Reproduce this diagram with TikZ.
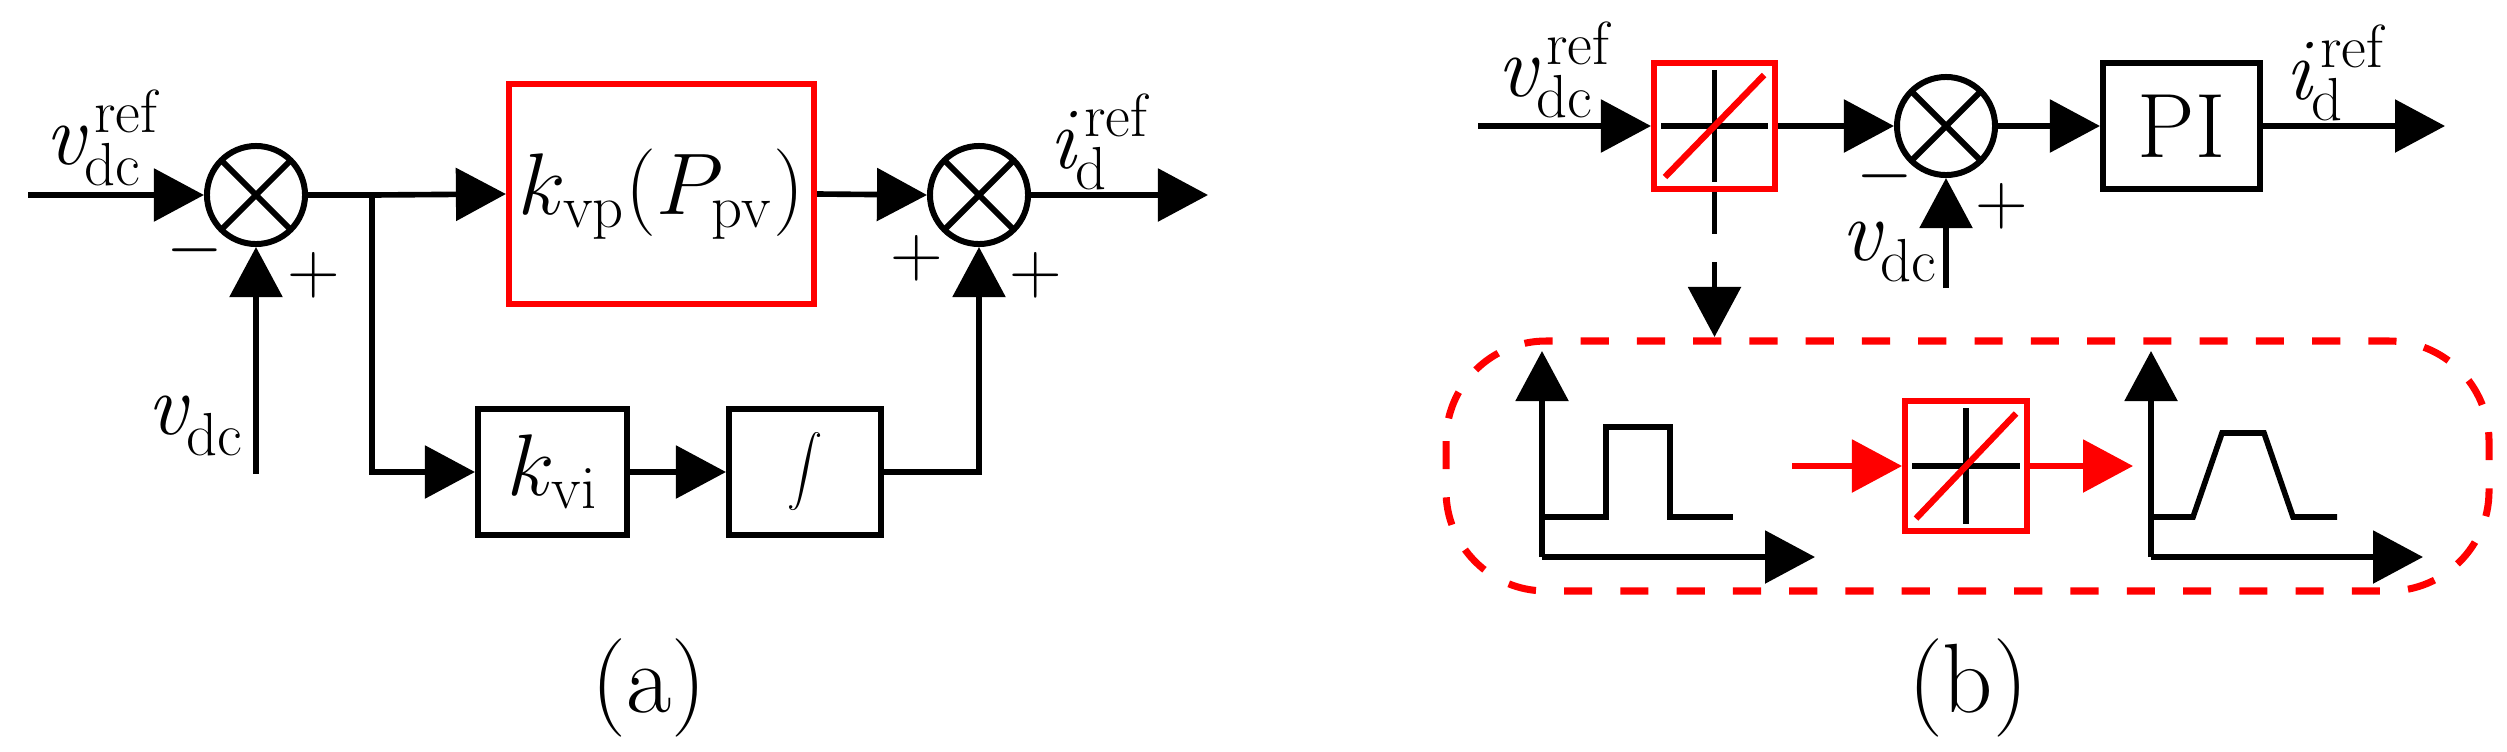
\documentclass[tikz,border=0pt]{standalone}
\usetikzlibrary{arrows.meta,calc}
\newcommand{\vsym}[3]{$\mathit{#1}^{\mathrm{#3}}_{\mathrm{#2}}$}
\begin{document}
\begin{tikzpicture}[x=0.01cm,y=-0.01cm,line width=1.6pt,
  ar/.style={-{Triangle[length=0.5cm,width=0.52cm]}},
  blk/.style={draw,line width=1.7pt,inner sep=0pt},
  lbl/.style={font=\fontsize{25}{29}\selectfont,inner sep=0pt},
  sg/.style={font=\fontsize{22}{26}\selectfont,inner sep=0pt},
  sum/.style={draw,circle,minimum size=0.98cm,inner sep=0pt,line width=1.7pt,path picture={
    \draw[line width=1.7pt] (path picture bounding box.north west) -- (path picture bounding box.south east)
      (path picture bounding box.south west) -- (path picture bounding box.north east);}},
  sw/.style={draw=red,line width=1.7pt,minimum width=1.21cm,minimum height=1.26cm,inner sep=0pt,path picture={
    \draw[draw=black,line width=1.6pt] ($(path picture bounding box.west)+(0.07cm,0)$) -- ($(path picture bounding box.east)+(-0.07cm,0)$)
      ($(path picture bounding box.north)+(0,-0.07cm)$) -- ($(path picture bounding box.south)+(0,0.07cm)$);
    \draw[draw=red,line width=1.8pt] ($(path picture bounding box.south west)+(0.11cm,0.12cm)$) -- ($(path picture bounding box.north east)+(-0.11cm,-0.12cm)$);}}]
\useasboundingbox (0,0) rectangle (2507,751);
% ---------- (a)
\node[sum] (s1) at (256,195) {};
\node[sum] (s2) at (979,195) {};
\coordinate (in1) at (28,195);
\draw[ar] (in1) -- (s1.west);
\node[lbl] (l1) at (104,138) {\vsym{v}{dc}{ref}};
\node[sg] (m1) at (195,250) {$-$};
\node[sg] (p1) at (314,275) {$+$};
\coordinate (vb) at (256,474);
\draw[ar] (vb) -- (s1.south);
\node[lbl] (l2) at (196,426) {\vsym{v}{dc}{}};
\node[blk,draw=red,minimum width=3.05cm,minimum height=2.2cm] (kp) at (661.5,194) {\fontsize{26}{30}\selectfont$k_{\mathrm{vp}}(P_{\mathrm{pv}})$};
\coordinate (br) at (372,195);
\draw (s1.east) -- (br);
\draw[ar] (br) -- (kp.west);
\draw[ar] (kp.east) -- (s2.west);
\coordinate (out1) at (1208,195);
\draw[ar] (s2.east) -- (out1);
\node[lbl] (l3) at (1101,142) {\vsym{i}{d}{ref}};
\node[sg] (p2) at (917,258) {$+$};
\node[sg] (p3) at (1036,275) {$+$};
\node[blk,minimum width=1.49cm,minimum height=1.25cm] (ki) at (552.5,472) {\fontsize{26}{30}\selectfont$k_{\mathrm{vi}}$};
\node[blk,minimum width=1.52cm,minimum height=1.25cm] (int) at (805,472) {\fontsize{26}{30}\selectfont$\displaystyle\int$};
\draw[ar] (br) |- (ki.west);
\draw[ar] (ki.east) -- (int.west);
\draw[ar] (int.east) -| (s2.south);
\node[font=\fontsize{28}{32}\selectfont] (ta) at (649,688) {(a)};
% ---------- (b)
\coordinate (bin) at (1478,126);
\node[lbl] (l4) at (1556,70) {\vsym{v}{dc}{ref}};
\node[sw] (d1) at (1714.5,126) {};
\draw[ar] (bin) -- (d1.west);
\node[sum] (s3) at (1946,126) {};
\draw[ar] (d1.east) -- (s3.west);
\node[blk,minimum width=1.57cm,minimum height=1.26cm] (pi) at (2181.5,126) {\fontsize{26}{30}\selectfont PI};
\draw[ar] (s3.east) -- (pi.west);
\coordinate (out2) at (2445,126);
\draw[ar] (pi.east) -- (out2);
\node[lbl] (l5) at (2337,73) {\vsym{i}{d}{ref}};
\node[sg] (m2) at (1885,176) {$-$};
\node[sg] (p4) at (2002,206) {$+$};
\coordinate (vb2) at (1946,288);
\draw[ar] (vb2) -- (s3.south);
\node[lbl] (l6) at (1890,252) {\vsym{v}{dc}{}};
\coordinate (dt) at (1714.5,337);
\draw[ar,dash pattern=on 12pt off 8pt] (d1.south) -- (dt);
\draw[red,dash pattern=on 8pt off 8pt,line width=2pt,rounded corners=1.0cm] (1446,341) rectangle (2489,591);
% plot 1
\coordinate (o1) at (1542,557);
\draw[ar] (o1) -- (1542,351);
\draw[ar] (o1) -- (1815,557);
\draw (1542,517) -- (1606,517) -- (1606,427) -- (1670,427) -- (1670,517) -- (1733,517);
\node[sw,minimum width=1.22cm,minimum height=1.29cm] (d2) at (1966,466) {};
\coordinate (ra) at (1792,466);
\draw[ar,red] (ra) -- (d2.west);
\coordinate (rb) at (2133,466);
\draw[ar,red] (d2.east) -- (rb);
% plot 2
\coordinate (o2) at (2151,557);
\draw[ar] (o2) -- (2151,351);
\draw[ar] (o2) -- (2423,557);
\draw (2151,517) -- (2193,517) -- (2222,433) -- (2264,433) -- (2293,517) -- (2337,517);
\node[font=\fontsize{28}{32}\selectfont] (tb) at (1968,688) {(b)};
\end{tikzpicture}
\end{document}
